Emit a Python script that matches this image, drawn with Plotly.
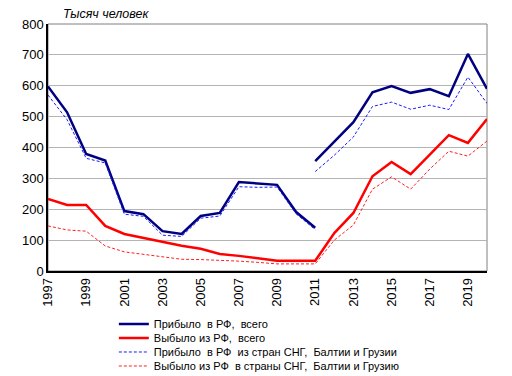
import plotly.graph_objects as go

years_old = list(range(1997, 2012))
years_new = list(range(2011, 2021))
years_all = list(range(1997, 2021))

arrivals_old = [598, 514, 379, 358, 194, 184, 129, 120, 178, 188, 288, 283, 279, 191, 140]
arrivals_new = [356, 418, 482, 579, 599, 577, 589, 566, 703, 590]
arrivals_cis_old = [570, 490, 365, 350, 184, 177, 116, 112, 171, 178, 273, 271, 272, 185, 134]
arrivals_cis_new = [322, 375, 434, 533, 547, 524, 537, 523, 628, 543]
departures = [233, 214, 214, 146, 120, 107, 94, 82, 72, 55, 49, 40, 33, 33, 33,
              123, 188, 307, 353, 314, 377, 440, 415, 492]
departures_cis = [146, 133, 129, 81, 62, 54, 47, 38, 37, 35, 32, 28, 23, 23, 23,
                  100, 149, 265, 305, 265, 330, 388, 372, 421]

names = ["Прибыло  в РФ,  всего", "Выбыло из РФ,  всего",
         "Прибыло  в РФ  из стран СНГ,  Балтии и Грузии",
         "Выбыло из РФ  в страны СНГ,  Балтии и Грузию"]
y_ticks = [0, 100, 200, 300, 400, 500, 600, 700, 800]

def joined(xo, yo, xn, yn):
    return xo + [xo[-1]] + xn, yo + [None] + yn

font = "Liberation Sans, Arial, sans-serif"

fig = go.Figure()
x1, y1 = joined(years_old, arrivals_old, years_new, arrivals_new)
fig.add_trace(go.Scatter(x=x1, y=y1, mode="lines", name=names[0], connectgaps=False,
                         legend="legend", line=dict(color="#000080", width=2.5)))
fig.add_trace(go.Scatter(x=years_all, y=departures, mode="lines", name=names[1],
                         legend="legend2", line=dict(color="#FF0000", width=2.5)))
x3, y3 = joined(years_old, arrivals_cis_old, years_new, arrivals_cis_new)
fig.add_trace(go.Scatter(x=x3, y=y3, mode="lines", name=names[2], connectgaps=False,
                         legend="legend3", line=dict(color="#1a1aff", width=1, dash="3px,2px")))
fig.add_trace(go.Scatter(x=years_all, y=departures_cis, mode="lines", name=names[3],
                         legend="legend4", line=dict(color="#FF2020", width=1, dash="3px,2px")))

def leg(y):
    return dict(x=0.150, y=y, xanchor="left", yanchor="middle",
                font=dict(family=font, size=11, color="black"),
                bgcolor="rgba(0,0,0,0)", itemwidth=30)

fig.update_layout(
    width=512, height=376,
    margin=dict(l=48, r=25, t=24, b=105, autoexpand=False),
    plot_bgcolor="white", paper_bgcolor="white",
    font=dict(family=font, size=13, color="black"),
    showlegend=True,
    legend=leg(-0.2146), legend2=leg(-0.2713), legend3=leg(-0.3279), legend4=leg(-0.3846),
    xaxis=dict(range=[1997, 2020], tick0=1997, dtick=2, tickangle=-90, automargin=False,
               showgrid=False, zeroline=False, showline=True, linecolor="black",
               linewidth=1.5, ticks="", tickfont=dict(size=13)),
    yaxis=dict(range=[0, 800], tickvals=y_ticks, showgrid=True, gridcolor="#b4b4b4",
               gridwidth=1, zeroline=False, showline=True, linecolor="black", automargin=False,
               linewidth=1.5, ticks="", tickfont=dict(size=13)),
    shapes=[dict(type="rect", xref="paper", yref="paper", x0=0, x1=1, y0=0, y1=1,
                 line=dict(color="#808080", width=1), layer="below")],
    annotations=[dict(text="<i>Тысяч человек</i>", xref="paper", yref="paper",
                      x=0.03, y=1.04, xanchor="left", yanchor="middle", showarrow=False,
                      font=dict(family=font, size=12.5, color="black"))],
)
fig.write_html("out.html", config={"displayModeBar": False})

with open("out.html", encoding="utf-8") as f:
    html = f.read()
html = html.replace("<body>", '<body style="margin:0;overflow:hidden">', 1)
with open("out.html", "w", encoding="utf-8") as f:
    f.write(html)
